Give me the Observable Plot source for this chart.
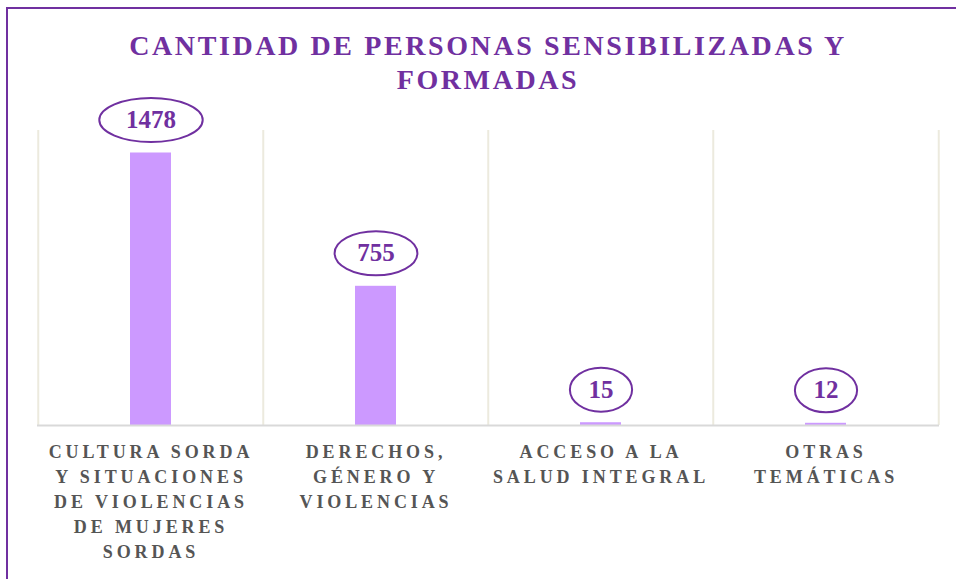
<!DOCTYPE html>
<html>
<head>
<meta charset="utf-8">
<script src="https://cdn.jsdelivr.net/npm/d3@7"></script>
<script src="https://cdn.jsdelivr.net/npm/@observablehq/plot@0.6"></script>
<style>
  html, body { margin: 0; padding: 0; background: #fff; overflow: hidden; }
  #page { position: relative; width: 956px; height: 579px; overflow: hidden; }
  #frame { position: absolute; left: 6px; top: 7px; width: 1000px; height: 620px;
           border: 2px solid #7030a0; box-sizing: border-box; }
  #title { position: absolute; left: 0; top: 0; width: 976px; box-sizing: border-box; z-index: 2;
           padding-top: 29px; text-align: center; color: #7030a0;
           font-family: "Liberation Serif", serif; font-weight: bold; font-size: 28px;
           line-height: 34px; letter-spacing: 2.6px; }
  #chart { position: absolute; left: 0; top: 0; }
  #chart g[aria-label^="x-axis"] text { letter-spacing: 3.9px; }
</style>
</head>
<body>
<div id="page">
  <div id="frame"></div>
  <div id="chart"></div>
  <div id="title">CANTIDAD DE PERSONAS SENSIBILIZADAS Y<br>FORMADAS</div>
</div>
<script>
const categories = [
  "CULTURA SORDA\nY SITUACIONES\nDE VIOLENCIAS\nDE MUJERES\nSORDAS",
  "DERECHOS,\nGÉNERO Y\nVIOLENCIAS",
  "ACCESO A LA\nSALUD INTEGRAL",
  "OTRAS\nTEMÁTICAS"
];
const values = [1478, 755, 15, 12];

const data = categories.map((c, i) => ({category: c, value: values[i]}));

const W = 956, H = 579, mL = 37, mR = 17, mT = 130, mB = 154;
const step = (W - mL - mR) / categories.length;

function ellipseSymbol(rx, ry) {
  const k = 0.5522847498;
  return {
    draw(ctx) {
      ctx.moveTo(rx, 0);
      ctx.bezierCurveTo(rx, ry * k, rx * k, ry, 0, ry);
      ctx.bezierCurveTo(-rx * k, ry, -rx, ry * k, -rx, 0);
      ctx.bezierCurveTo(-rx, -ry * k, -rx * k, -ry, 0, -ry);
      ctx.bezierCurveTo(rx * k, -ry, rx, -ry * k, rx, 0);
      ctx.closePath();
    }
  };
}

const ellipses = data.map(d => Plot.dot([d], {
  x: "category", y: "value", dy: -33,
  symbol: ellipseSymbol(10.5 + 10.3 * String(d.value).length, 22),
  fill: "white", stroke: "#7030a0", strokeWidth: 2
}));

const chart = Plot.plot({
  width: W, height: H,
  marginLeft: mL, marginRight: mR, marginTop: mT, marginBottom: mB,
  style: {fontFamily: "'Liberation Serif', serif", background: "transparent", overflow: "visible"},
  x: {domain: categories, paddingInner: 0.818, paddingOuter: 0.409, label: null},
  y: {domain: [0, 1600], axis: null},
  marks: [
    Plot.ruleX(categories, {x: d => d, dx: -step / 2, stroke: "#eceade", strokeWidth: 2}),
    Plot.ruleX([categories[categories.length - 1]], {x: d => d, dx: step / 2, stroke: "#eceade", strokeWidth: 2}),
    Plot.barY(data, {x: "category", y: "value", fill: "#cc99ff"}),
    Plot.ruleY([0], {stroke: "#d9d9d9", strokeWidth: 2}),
    ...ellipses,
    Plot.text(data, {x: "category", y: "value", dy: -33, text: d => String(d.value),
      fill: "#7030a0", fontSize: 25, fontWeight: "bold"}),
    Plot.axisX({tickSize: 0, tickPadding: 15, fontSize: 18, fontWeight: "bold",
      fill: "#555555", lineHeight: 1.39, label: null})
  ]
});
document.getElementById("chart").appendChild(chart);
</script>
</body>
</html>
